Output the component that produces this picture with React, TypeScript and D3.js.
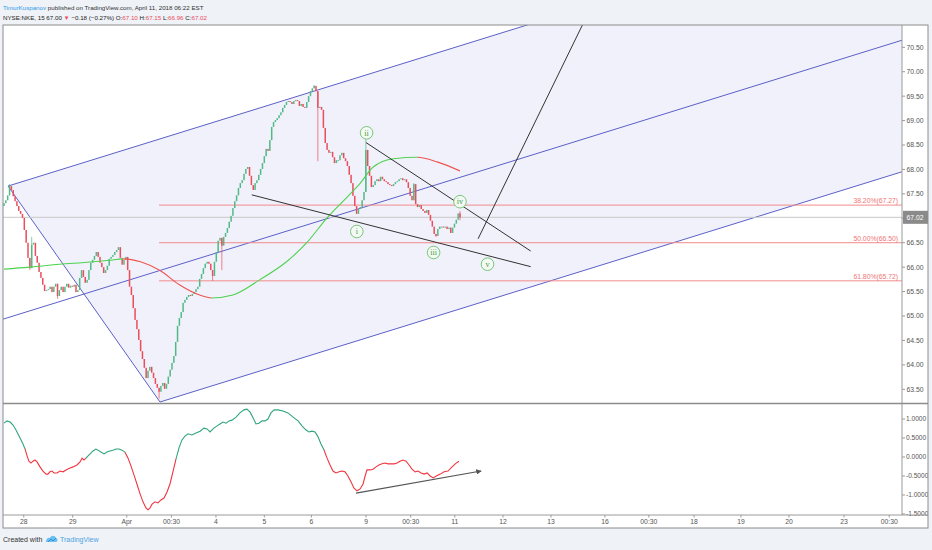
import React from 'react';
import * as d3 from 'd3';

// ---------- DATA ----------
const firstOpen = 67.25;
const closes: number[] = [
  67.31, 67.37, 67.47, 67.66, 67.58, 67.45, 67.35, 67.25, 67.15, 67.09,
  67.01, 66.76, 66.50, 66.19, 65.98, 66.46, 66.50, 66.23, 66.09, 65.90,
  65.78, 65.64, 65.51, 65.53, 65.55, 65.60, 65.49, 65.60, 65.66, 65.41,
  65.53, 65.60, 65.49, 65.60, 65.66, 65.58, 65.62, 65.60, 65.64, 65.49,
  65.53, 65.78, 65.94, 65.80, 65.68, 65.74, 65.94, 66.09, 66.15, 66.23,
  66.31, 66.21, 66.09, 66.00, 65.88, 65.94, 66.03, 66.17, 66.21, 66.25,
  66.31, 66.35, 66.41, 66.19, 66.05, 66.15, 66.21, 65.94, 65.60, 65.43,
  65.16, 64.92, 64.73, 64.51, 64.28, 64.12, 63.94, 63.73, 63.88, 63.96,
  63.84, 63.73, 63.61, 63.53, 63.45, 63.57, 63.63, 63.51, 63.61, 63.76,
  63.90, 64.04, 64.18, 64.47, 64.80, 64.96, 65.08, 65.27, 65.33, 65.39,
  65.43, 65.41, 65.45, 65.49, 65.55, 65.60, 65.76, 65.86, 65.98, 66.07,
  66.11, 66.07, 65.94, 65.82, 66.11, 66.31, 66.54, 66.60, 66.44, 66.62,
  66.70, 66.80, 66.93, 67.05, 67.21, 67.35, 67.47, 67.62, 67.72, 67.78,
  67.91, 68.01, 68.05, 67.87, 67.68, 67.58, 67.72, 67.78, 67.89, 68.01,
  68.13, 68.27, 68.42, 68.38, 68.60, 68.87, 68.97, 69.01, 69.05, 69.11,
  69.17, 69.26, 69.32, 69.38, 69.40, 69.38, 69.34, 69.40, 69.42, 69.40,
  69.30, 69.34, 69.28, 69.26, 69.38, 69.50, 69.60, 69.66, 69.71, 69.60,
  69.26, 69.28, 69.22, 68.85, 68.54, 68.40, 68.34, 68.36, 68.25, 68.13,
  68.19, 68.19, 68.29, 68.34, 68.23, 68.17, 68.07, 67.89, 67.72, 67.46,
  67.25, 67.09, 67.19, 67.23, 67.37, 67.54, 68.40, 68.07, 67.87, 67.64,
  67.68, 67.76, 67.80, 67.76, 67.85, 67.80, 67.76, 67.74, 67.70, 67.68,
  67.66, 67.70, 67.74, 67.76, 67.80, 67.82, 67.78, 67.80, 67.74, 67.62,
  67.46, 67.37, 67.70, 67.29, 67.23, 67.27, 67.19, 67.15, 67.11, 67.17,
  67.07, 66.95, 66.83, 66.68, 66.64, 66.78, 66.83, 66.83, 66.81, 66.83,
  66.78, 66.81, 66.70, 66.81, 66.89, 66.97, 67.10, 67.02,
];
// [bar, high, low] for bars whose wicks reach past the body
const wickExtremes: [number, number | null, number | null][] = [
  [3, 67.70, null], [14, null, 65.94], [15, 66.62, null], [29, null, 65.35],
  [84, null, 63.31], [113, null, 65.72], [118, null, 65.94], [168, 69.73, null],
  [170, null, 68.17], [196, 68.62, null], [222, 67.72, null], [234, null, 66.62],
  [247, 67.15, 66.96],
];
// moving average [bar, price]
const maPoints: [number, number][] = [
  [0, 65.96], [14, 66.0], [30, 66.06], [45, 66.1], [57, 66.14], [64.5, 66.17],
  [74, 66.11], [84.5, 65.93], [95, 65.64], [106, 65.43], [112.5, 65.37],
  [124, 65.43], [138.5, 65.74], [153, 66.11], [164, 66.5], [175, 67.01],
  [186, 67.44], [193, 67.72], [200, 68.05], [211, 68.22], [224, 68.25],
  [235, 68.15], [247, 67.97],
];
// oscillator [bar, value]
const oscPoints: [number, number][] = [
  [0, 0.89], [1.6, 0.95], [3.3, 0.92], [4.9, 0.84], [6.5, 0.71], [8.7, 0.5], [10.3, 0.34],
  [11.4, 0.21], [12.5, 0.03], [13.5, -0.11], [14.6, -0.16], [15.7, -0.11], [16.8, -0.08],
  [17.9, -0.13], [19.5, -0.26], [21.1, -0.37], [22.8, -0.45], [23.8, -0.45], [24.9, -0.39],
  [26, -0.37], [27.1, -0.42], [28.7, -0.42], [30.3, -0.37], [32, -0.39], [33.6, -0.34],
  [35.8, -0.29], [37.4, -0.26], [39.5, -0.21], [41.2, -0.13], [42.3, -0.03], [43.3, -0.08],
  [44.4, -0.03], [46.6, 0.08], [48.2, 0.16], [49.8, 0.21], [50.9, 0.18], [52.5, 0.13],
  [54.2, 0.08], [55.8, 0.13], [57.4, 0.16], [59, 0.18], [60.7, 0.21], [62.3, 0.21],
  [63.9, 0.18], [65.5, 0.13], [67.2, -0.03], [68.8, -0.24], [70.4, -0.47], [72, -0.71],
  [73.7, -0.97], [75.3, -1.18], [76.9, -1.34], [78, -1.39], [79.1, -1.34], [80.2, -1.24],
  [81.8, -1.18], [83.4, -1.21], [85, -1.13], [86.7, -1.08], [88.3, -0.92], [89.9, -0.71],
  [91.5, -0.39], [93.2, -0.05], [94.8, 0.24], [96.4, 0.45], [98, 0.55], [99.7, 0.61],
  [101.8, 0.58], [104, 0.63], [106.2, 0.68], [108.3, 0.76], [110, 0.74], [111.6, 0.66],
  [113.2, 0.74], [115.4, 0.82], [117, 0.87], [118.6, 0.92], [120.3, 0.89], [121.9, 0.95],
  [123.5, 0.97], [125.7, 1.05], [127.8, 1.16], [130, 1.24], [131.6, 1.26], [133.3, 1.18],
  [134.9, 1.03], [136.5, 0.87], [138.1, 0.89], [139.8, 0.95], [141.4, 0.95], [143, 1.0],
  [144.6, 1.16], [146.3, 1.24], [148.4, 1.24], [151.1, 1.21], [153.8, 1.16], [156.6, 1.05],
  [159.3, 0.95], [161.4, 0.82], [163.6, 0.71], [165.2, 0.66], [166.8, 0.68], [168.5, 0.66],
  [170.1, 0.53], [171.7, 0.34], [173.4, 0.18], [175, -0.03], [176.6, -0.21], [178.2, -0.37],
  [179.8, -0.42], [181.5, -0.39], [183.1, -0.37], [184.7, -0.39], [186.3, -0.5], [188, -0.66],
  [189.6, -0.82], [191.2, -0.89], [192.9, -0.84], [194.5, -0.71], [195.6, -0.5], [196.6, -0.34],
  [198.3, -0.34], [199.9, -0.32], [201.5, -0.26], [203.1, -0.21], [204.8, -0.18], [206.4, -0.16],
  [208, -0.18], [209.6, -0.18], [211.3, -0.18], [212.9, -0.16], [214.5, -0.11], [216.1, -0.08],
  [217.8, -0.11], [219.4, -0.21], [221, -0.32], [222.7, -0.39], [224.3, -0.37], [225.9, -0.42],
  [227.6, -0.45], [229.2, -0.42], [230.8, -0.5], [232.5, -0.55], [234.1, -0.5], [236.3, -0.45],
  [238.4, -0.39], [240.5, -0.37], [242.7, -0.26], [244.9, -0.16], [246.5, -0.11],
];
// bars where the oscillator colour flips (starts "up")
const oscColorBreaks: number[] = [11.4, 44.4, 65.5, 93.2, 173.4];

const priceTicks = [70.5, 70, 69.5, 69, 68.5, 68, 67.5, 67, 66.5, 66, 65.5, 65, 64.5, 64, 63.5];
const oscTicks = [1, 0.5, 0, -0.5, -1, -1.5];
const timeTicks: [string, number][] = [
  ['28', 10.7], ['29', 37.2], ['Apr', 66.5], ['00:30', 90.7], ['4', 114.8], ['5', 141],
  ['6', 166.5], ['9', 196.1], ['00:30', 220.3], ['11', 244.2], ['12', 270.3], ['13', 296.3],
  ['16', 325.5], ['00:30', 349.3], ['18', 373.8], ['19', 399.2], ['20', 425.2], ['23', 455],
  ['00:30', 479.5],
];
const fibRatios = ['38.20%', '50.00%', '61.80%'];
const fibPrices = [67.27, 66.5, 65.72];
const fibStartBar = 84;
const pitchforkPoints: [number, number][] = [[-1, 64.93], [2.2, 67.66], [84.5, 63.24]];
const trendLines: [number, number][][] = [
  [[134.2, 67.48], [285.3, 66.01]],
  [[196.1, 68.55], [285.3, 66.33]],
  [[256.8, 66.58], [318, 71.32]],
];
const waveLabels: [string, number, number][] = [
  ['i', 191.1, 66.73], ['ii', 196.4, 68.75], ['iii', 232.7, 66.3], ['iv', 247, 67.34], ['v', 261.9, 66.06],
];
const oscArrow: [number, number][] = [[190.7, -0.95], [258.4, -0.37]];
const lastPrice = 67.02;

// ---------- COMPONENT ----------
const UP = '#53b987';
const DOWN = '#eb4d5c';
const FONT = '"Liberation Sans", Arial, sans-serif';

export default function App() {
  const W = 932, H = 550;
  const L = 3, R = 902, FR = 928, T = 25, MB = 403, OB = 515, TB = 528;

  const x = d3.scaleLinear().domain([0, 247]).range([4, 460]);
  const y = d3.scaleLinear().domain([63.5, 70.5]).range([389.3, 47.3]);
  const yo = d3.scaleLinear().domain([-1.5, 1]).range([514, 419]);

  const candles = closes.map((c, i) => {
    const o = i === 0 ? firstOpen : closes[i - 1];
    let h = Math.max(o, c), l = Math.min(o, c);
    const w = wickExtremes.find((e) => e[0] === i);
    if (w) { if (w[1] !== null) h = Math.max(h, w[1]); if (w[2] !== null) l = Math.min(l, w[2]); }
    return { i, o, c, h, l };
  });

  const maLine = d3.line<[number, number]>().x((d) => x(d[0])).y((d) => y(d[1])).curve(d3.curveMonotoneX);
  const maRuns: { up: boolean; x0: number; x1: number }[] = [];
  for (let k = 1; k < maPoints.length; k++) {
    const up = maPoints[k][1] >= maPoints[k - 1][1];
    const last = maRuns[maRuns.length - 1];
    if (last && last.up === up) last.x1 = x(maPoints[k][0]);
    else maRuns.push({ up, x0: x(maPoints[k - 1][0]), x1: x(maPoints[k][0]) });
  }

  const oscLine = d3.line<[number, number]>().x((d) => x(d[0])).y((d) => yo(d[1]));
  const oscRuns: { up: boolean; x0: number; x1: number }[] = [];
  const bounds = [oscPoints[0][0], ...oscColorBreaks, oscPoints[oscPoints.length - 1][0]];
  for (let k = 0; k < bounds.length - 1; k++) {
    oscRuns.push({ up: k % 2 === 0, x0: x(bounds[k]), x1: x(bounds[k + 1]) });
  }

  const [P1, P2, P3] = pitchforkPoints.map((p) => [x(p[0]), y(p[1])]);
  const M = [(P2[0] + P3[0]) / 2, (P2[1] + P3[1]) / 2];
  const slope = (M[1] - P1[1]) / (M[0] - P1[0]);
  const far = 1400;
  const ext = (p: number[]) => [far, p[1] + slope * (far - p[0])];
  const upEnd = ext(P2), loEnd = ext(P3), mdEnd = ext(P1);

  const fibX0 = x(fibStartBar);
  const lastY = y(lastPrice);

  return (
    <svg width={W} height={H} style={{ position: 'absolute', left: 0, top: 0, background: '#eff2f7' }}
      fontFamily={FONT}>
      <defs>
        <clipPath id="mainClip"><rect x={L} y={T} width={R - L} height={MB - T} /></clipPath>
        <clipPath id="oscClip"><rect x={L} y={MB + 1} width={R - L} height={OB - MB - 1} /></clipPath>
        <clipPath id="oscAxisClip"><rect x={R} y={MB + 1} width={FR - R} height={OB - MB} /></clipPath>
        {maRuns.map((r, k) => (
          <clipPath key={k} id={`ma${k}`}><rect x={r.x0} y={T} width={r.x1 - r.x0} height={MB - T} /></clipPath>
        ))}
        {oscRuns.map((r, k) => (
          <clipPath key={k} id={`os${k}`}><rect x={r.x0} y={MB} width={r.x1 - r.x0 + 0.01} height={OB - MB} /></clipPath>
        ))}
        <marker id="arrow" viewBox="0 0 8 8" refX="7" refY="4" markerWidth="5" markerHeight="5" orient="auto">
          <path d="M0,0 L8,4 L0,8 z" fill="#555" />
        </marker>
      </defs>

      {/* header */}
      <text x={3} y={9.5} fontSize={6.2} fill="#333">
        <tspan fill="#2f9be8">TimurKuspanov</tspan>
        <tspan>{' published on TradingView.com, April 11, 2018 06:22 EST'}</tspan>
      </text>
      <text x={3} y={20} fontSize={6.2} fill="#222">
        <tspan>{'NYSE:NKE, 15 '}</tspan>
        <tspan>{'67.00 '}</tspan>
        <tspan fill={DOWN}>▼</tspan>
        <tspan>{' −0.18 (−0.27%) O:'}</tspan>
        <tspan fill={DOWN}>67.10</tspan>
        <tspan>{' H:'}</tspan>
        <tspan fill={DOWN}>67.15</tspan>
        <tspan>{' L:'}</tspan>
        <tspan fill={DOWN}>66.96</tspan>
        <tspan>{' C:'}</tspan>
        <tspan fill={DOWN}>67.02</tspan>
      </text>

      <rect x={L} y={T} width={FR - L} height={TB - T} fill="#fff" />

      {/* main pane */}
      <g clipPath="url(#mainClip)">
        <polygon points={[P2, upEnd, loEnd, P3].map((p) => p.join(',')).join(' ')} fill="rgba(92,96,200,0.09)" />
        <line x1={P1[0]} y1={P1[1]} x2={mdEnd[0]} y2={mdEnd[1]} stroke="#5c60c8" strokeWidth={1} />
        <line x1={P2[0]} y1={P2[1]} x2={upEnd[0]} y2={upEnd[1]} stroke="#5c60c8" strokeWidth={1} />
        <line x1={P3[0]} y1={P3[1]} x2={loEnd[0]} y2={loEnd[1]} stroke="#5c60c8" strokeWidth={1} />
        <line x1={P2[0]} y1={P2[1]} x2={P3[0]} y2={P3[1]} stroke="#5c60c8" strokeWidth={1} />

        <line x1={L} x2={R} y1={lastY} y2={lastY} stroke="#c8c8c8" strokeWidth={1} />

        {fibPrices.map((p, k) => (
          <g key={k}>
            <line x1={fibX0} x2={R} y1={y(p)} y2={y(p)} stroke="#f28b8b" strokeWidth={1} />
            <text x={R - 4} y={y(p) - 2} fontSize={6.8} fill="#ef7474" textAnchor="end">
              {`${fibRatios[k]}(${p.toFixed(2)})`}
            </text>
          </g>
        ))}

        {candles.map((d) => {
          const cx = x(d.i);
          const top = y(Math.max(d.o, d.c));
          const bot = y(Math.min(d.o, d.c));
          const col = d.c >= d.o ? UP : DOWN;
          return (
            <g key={d.i}>
              {(d.h > Math.max(d.o, d.c) || d.l < Math.min(d.o, d.c)) && (
                <line x1={cx} x2={cx} y1={y(d.h)} y2={y(d.l)} stroke={col} strokeWidth={0.7} />
              )}
              <rect x={cx - 0.75} y={top} width={1.5} height={Math.max(1, bot - top)} fill={col} />
            </g>
          );
        })}

        {maRuns.map((r, k) => (
          <path key={k} d={maLine(maPoints) || ''} fill="none" stroke={r.up ? '#4fd24f' : '#ef5350'}
            strokeWidth={1.1} clipPath={`url(#ma${k})`} />
        ))}

        {trendLines.map((tl, k) => (
          <line key={k} x1={x(tl[0][0])} y1={y(tl[0][1])} x2={x(tl[1][0])} y2={y(tl[1][1])}
            stroke="#333" strokeWidth={1} />
        ))}

        {waveLabels.map(([t, b, p], k) => (
          <g key={k}>
            <circle cx={x(b)} cy={y(p)} r={6.3} fill="#f3faf3" stroke="#6cbf6c" strokeWidth={0.9} />
            <text x={x(b)} y={y(p) + 2.7} fontSize={8.2} fill="#4a9d4a" textAnchor="middle"
              fontFamily='"Liberation Serif", serif'>{t}</text>
          </g>
        ))}
      </g>

      {/* oscillator pane */}
      <g clipPath="url(#oscClip)">
        {oscRuns.map((r, k) => (
          <path key={k} d={oscLine(oscPoints) || ''} fill="none" stroke={r.up ? '#2fa57a' : '#f0353f'}
            strokeWidth={1.1} clipPath={`url(#os${k})`} />
        ))}
        <line x1={x(oscArrow[0][0])} y1={yo(oscArrow[0][1])} x2={x(oscArrow[1][0])} y2={yo(oscArrow[1][1])}
          stroke="#555" strokeWidth={1.1} markerEnd="url(#arrow)" />
      </g>

      {/* price axis */}
      {priceTicks.map((p) => (
        <g key={p}>
          <line x1={R} x2={R + 3} y1={y(p)} y2={y(p)} stroke="#999" />
          <text x={R + 4.5} y={y(p) + 2.4} fontSize={6.8} fill="#555">{p.toFixed(2)}</text>
        </g>
      ))}
      <rect x={R + 1} y={lastY - 6.5} width={FR - R - 1} height={13} fill="#8a8a8a" />
      <text x={R + 4.5} y={lastY + 2.4} fontSize={6.8} fill="#fff">{lastPrice.toFixed(2)}</text>

      {/* oscillator axis */}
      <g clipPath="url(#oscAxisClip)">
        {oscTicks.map((v) => (
          <g key={v}>
            <line x1={R} x2={R + 3} y1={yo(v)} y2={yo(v)} stroke="#999" />
            <text x={R + 4} y={yo(v) + 2.4} fontSize={6.6} fill="#555">{v.toFixed(4)}</text>
          </g>
        ))}
      </g>

      {/* time axis */}
      {timeTicks.map(([t, b], k) => (
        <g key={k}>
          <line x1={x(b)} x2={x(b)} y1={OB} y2={OB + 2.5} stroke="#999" />
          <text x={x(b)} y={OB + 8.8} fontSize={6.8} fill="#555" textAnchor="middle">{t}</text>
        </g>
      ))}

      {/* frame */}
      <rect x={L} y={T} width={FR - L} height={TB - T} fill="none" stroke="#8c8c8c" strokeWidth={1} />
      <line x1={R} x2={R} y1={T} y2={OB} stroke="#9a9a9a" strokeWidth={1} />
      <line x1={L} x2={FR} y1={MB + 0.5} y2={MB + 0.5} stroke="#8c8c8c" strokeWidth={1.5} />
      <line x1={L} x2={FR} y1={OB} y2={OB} stroke="#9a9a9a" strokeWidth={1} />

      {/* footer */}
      <text x={3} y={542} fontSize={7} fill="#333">Created with</text>
      <g transform="translate(45,535)">
        <path d="M1,7 C1,4 3,2 5,3 C6,0 10,0 11,3 C13,3 13,7 11,7 Z" fill="#6cc0ef" />
        <path d="M3,7 L6,4 L8,6 L11,3" fill="none" stroke="#2c8fd6" strokeWidth={1} />
      </g>
      <text x={60} y={542} fontSize={7} fill="#4aa3df">TradingView</text>
    </svg>
  );
}
